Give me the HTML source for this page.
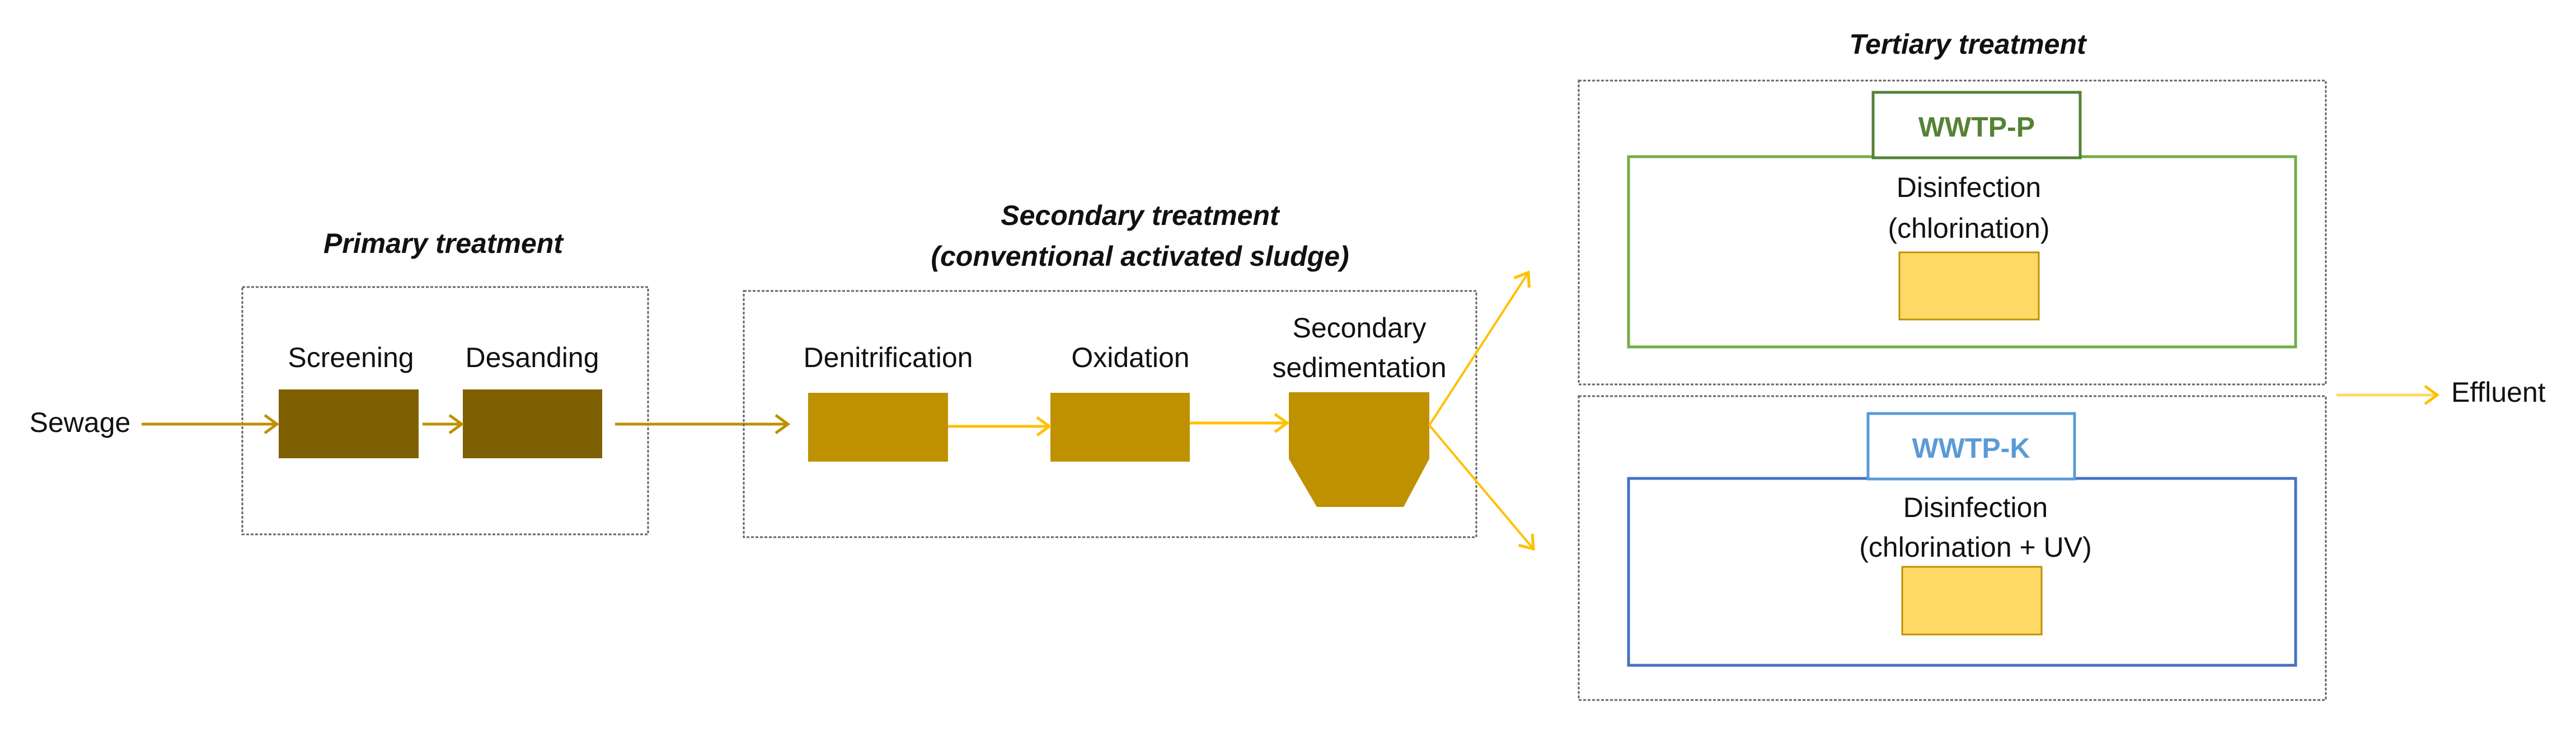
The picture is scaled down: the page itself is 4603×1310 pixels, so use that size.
<!DOCTYPE html>
<html><head><meta charset="utf-8"><style>
html,body{margin:0;padding:0;background:#fff;}
svg{display:block;}
text{font-family:"Liberation Sans",sans-serif;fill:#111;}
.t{font-weight:bold;font-style:italic;font-size:50px;}
.l{font-size:50px;}
.d{fill:none;stroke:#666;stroke-width:3;stroke-dasharray:5 3;}
</style></head><body>
<svg width="4603" height="1310" viewBox="0 0 4603 1310" xmlns="http://www.w3.org/2000/svg">
<defs>
<marker id="a1" markerWidth="40" markerHeight="40" refX="36" refY="20" orient="auto" markerUnits="userSpaceOnUse">
<path d="M14,4 L36,20 L14,36" fill="none" stroke="#bf9000" stroke-width="5"/></marker>
<marker id="a2" markerWidth="40" markerHeight="40" refX="36" refY="20" orient="auto" markerUnits="userSpaceOnUse">
<path d="M14,4 L36,20 L14,36" fill="none" stroke="#ffc000" stroke-width="5"/></marker>
</defs>

<!-- Primary -->
<text class="t" x="792" y="452" text-anchor="middle">Primary treatment</text>
<rect class="d" x="433" y="513" width="725" height="442"/>
<text class="l" x="627" y="656" text-anchor="middle">Screening</text>
<text class="l" x="951" y="656" text-anchor="middle">Desanding</text>
<rect x="498" y="696" width="250" height="123" fill="#7f6000"/>
<rect x="827" y="696" width="249" height="123" fill="#7f6000"/>
<text class="l" x="143" y="772" text-anchor="middle">Sewage</text>
<line x1="253" y1="758" x2="495" y2="758" stroke="#bf9000" stroke-width="5" marker-end="url(#a1)"/>
<line x1="755" y1="758" x2="825" y2="758" stroke="#bf9000" stroke-width="5" marker-end="url(#a1)"/>
<line x1="1099" y1="758" x2="1408" y2="758" stroke="#bf9000" stroke-width="5" marker-end="url(#a1)"/>

<!-- Secondary -->
<text class="t" x="2037" y="402" text-anchor="middle">Secondary treatment</text>
<text class="t" x="2037" y="475" text-anchor="middle">(conventional activated sludge)</text>
<rect class="d" x="1329" y="520" width="1309" height="440"/>
<text class="l" x="1587" y="656" text-anchor="middle">Denitrification</text>
<text class="l" x="2020" y="656" text-anchor="middle">Oxidation</text>
<text class="l" x="2429" y="603" text-anchor="middle">Secondary</text>
<text class="l" x="2429" y="674" text-anchor="middle">sedimentation</text>
<rect x="1444" y="702" width="250" height="123" fill="#bf9000"/>
<rect x="1877" y="702" width="249" height="123" fill="#bf9000"/>
<path d="M2303,701 L2554,701 L2554,820 L2508,906 L2353,906 L2303,820 Z" fill="#bf9000"/>
<line x1="1694" y1="762" x2="1875" y2="762" stroke="#ffc000" stroke-width="5" marker-end="url(#a2)"/>
<line x1="2126" y1="756" x2="2300" y2="756" stroke="#ffc000" stroke-width="5" marker-end="url(#a2)"/>
<line x1="2554" y1="760" x2="2731" y2="487" stroke="#ffc000" stroke-width="4" marker-end="url(#a2)"/>
<line x1="2554" y1="760" x2="2740" y2="981" stroke="#ffc000" stroke-width="4" marker-end="url(#a2)"/>

<!-- Tertiary -->
<text class="t" x="3516" y="96" text-anchor="middle">Tertiary treatment</text>
<rect class="d" x="2821" y="144" width="1335" height="543"/>
<rect class="d" x="2821" y="708" width="1335" height="543"/>

<rect x="2910" y="280" width="1192" height="340" fill="none" stroke="#70ad47" stroke-width="5"/>
<rect x="3347" y="165" width="370" height="117" fill="#fff" stroke="#548235" stroke-width="5"/>
<text x="3532" y="244" text-anchor="middle" style="font-size:50px;font-weight:bold;fill:#548235">WWTP-P</text>
<text class="l" x="3518" y="352" text-anchor="middle">Disinfection</text>
<text class="l" x="3518" y="425" text-anchor="middle">(chlorination)</text>
<rect x="3394" y="451" width="249" height="120" fill="#ffd966" stroke="#bf9000" stroke-width="3"/>

<rect x="2910" y="855" width="1192" height="334" fill="none" stroke="#4472c4" stroke-width="5"/>
<rect x="3338" y="739" width="369" height="117" fill="#fff" stroke="#5b9bd5" stroke-width="5"/>
<text x="3522" y="818" text-anchor="middle" style="font-size:50px;font-weight:bold;fill:#5b9bd5">WWTP-K</text>
<text class="l" x="3530" y="924" text-anchor="middle">Disinfection</text>
<text class="l" x="3530" y="995" text-anchor="middle">(chlorination + UV)</text>
<rect x="3399" y="1013" width="249" height="121" fill="#ffd966" stroke="#bf9000" stroke-width="3"/>

<line x1="4175" y1="706" x2="4355" y2="706" stroke="#ffd966" stroke-width="5" marker-end="url(#a2)"/>
<text class="l" x="4380" y="718">Effluent</text>
</svg>
</body></html>
